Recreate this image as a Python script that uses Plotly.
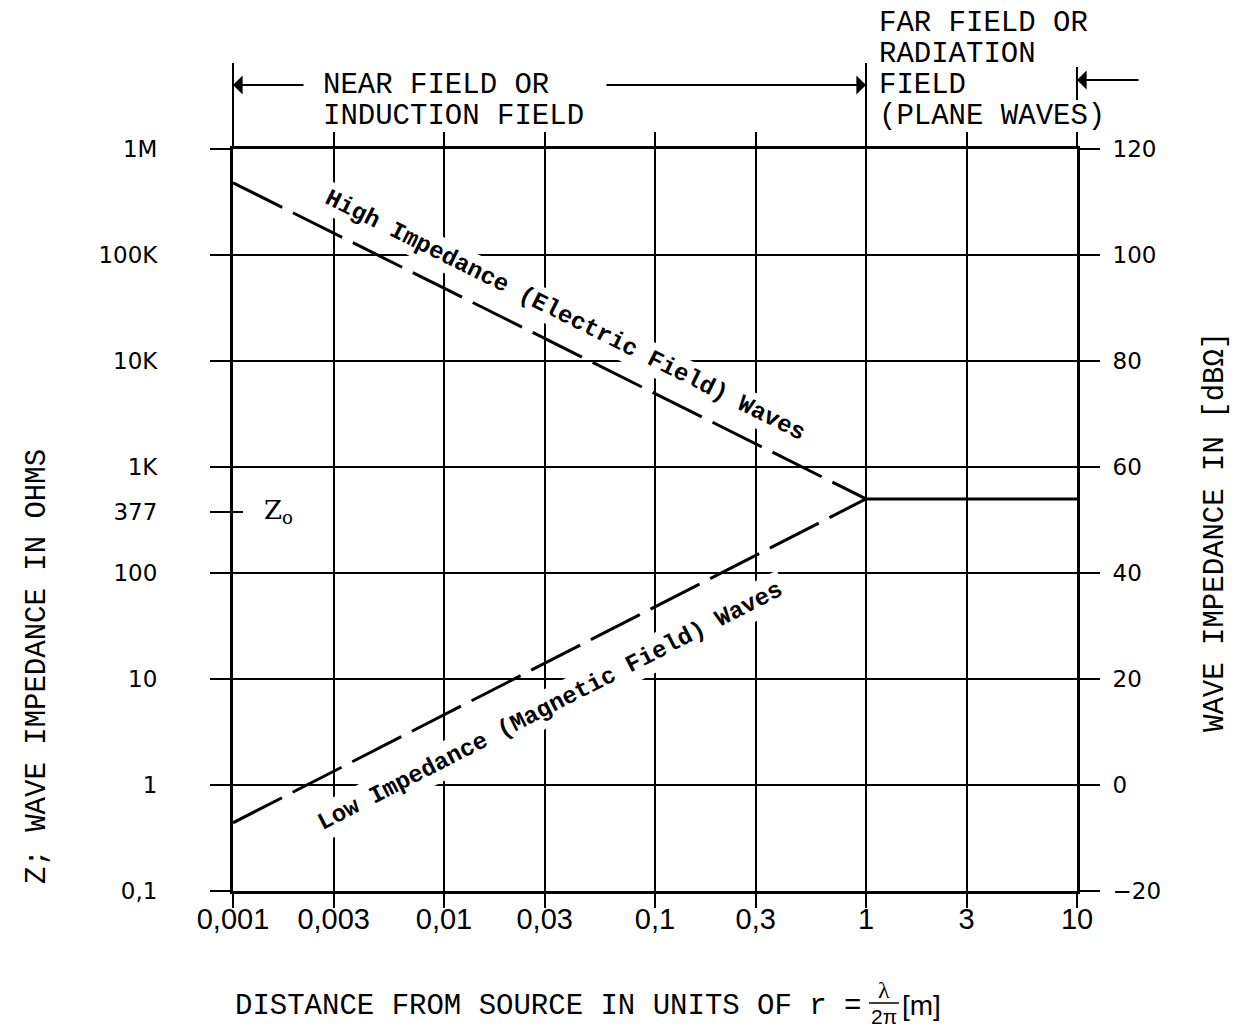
import math
import plotly.graph_objects as go

# ---------------- data ----------------
x_ticks = [0.001, 0.003, 0.01, 0.03, 0.1, 0.3, 1, 3, 10]
x_ticktext = ["0,001", "0,003", "0,01", "0,03", "0,1", "0,3", "1", "3", "10"]

z_ticks = [0.1, 1, 10, 100, 377, 1e3, 1e4, 1e5, 1e6]
z_ticktext = ["0,1", "1", "10", "100", "377", "1K", "10K", "100K", "1M"]

db_ticks = [-20, 0, 20, 40, 60, 80, 100, 120]
db_ticktext = ["\u221220", "0", "20", "40", "60", "80", "100", "120"]

# wave impedance curves
high_x = [0.001, 1]
high_z = [4.8e5, 500]          # electric-field (high impedance) waves
low_x = [0.001, 1]
low_z = [0.44, 500]            # magnetic-field (low impedance) waves
far_x = [1, 10]
far_z = [500, 500]             # plane waves (far field)

# ---------------- figure ----------------
MONO = "Liberation Mono, DejaVu Sans Mono, monospace"
TICKF = "DejaVu Sans, sans-serif"
NARROW = "Liberation Sans Narrow, Liberation Sans, Arial Narrow, sans-serif"

fig = go.Figure()

fig.add_trace(go.Scatter(x=high_x, y=high_z, mode="lines",
                         line=dict(color="black", width=3, dash="55px,12px"),
                         hoverinfo="skip", showlegend=False))
fig.add_trace(go.Scatter(x=low_x, y=low_z, mode="lines",
                         line=dict(color="black", width=3, dash="55px,12px"),
                         hoverinfo="skip", showlegend=False))
fig.add_trace(go.Scatter(x=far_x, y=far_z, mode="lines",
                         line=dict(color="black", width=3),
                         hoverinfo="skip", showlegend=False))
# anchor trace for the dB axis
fig.add_trace(go.Scatter(x=[x_ticks[0]], y=[db_ticks[0]], yaxis="y2", mode="markers",
                         marker=dict(opacity=0), hoverinfo="skip", showlegend=False))

W, H = 1237, 1033
L, R, T, B = 233, 160, 149, 142
PW, PH = W - L - R, H - T - B


def px(xp):
    return (xp - L) / PW


def py(yp):
    return (H - B - yp) / PH


fig.update_layout(
    width=W, height=H,
    margin=dict(l=L, r=R, t=T, b=B),
    paper_bgcolor="white", plot_bgcolor="white",
    showlegend=False,
    xaxis=dict(type="log", range=[-3, 1], tickvals=x_ticks, ticktext=x_ticktext,
               ticks="outside", ticklen=14, tickwidth=2, tickcolor="black",
               ticklabelstandoff=-14,
               showgrid=True, gridcolor="black", gridwidth=2,
               showline=True, linecolor="black", linewidth=3, mirror="ticks",
               zeroline=False,
               tickfont=dict(family=NARROW, size=29, color="black")),
    yaxis=dict(type="log", range=[-1, 6], tickvals=z_ticks, ticktext=z_ticktext,
               ticks="outside", ticklen=20, tickwidth=2, tickcolor="black",
               ticklabelstandoff=48,
               showgrid=False, showline=True, linecolor="black", linewidth=3,
               zeroline=False,
               tickfont=dict(family=TICKF, size=23, color="black")),
    yaxis2=dict(overlaying="y", side="right", range=[-20, 120],
                tickvals=db_ticks, ticktext=db_ticktext,
                ticks="outside", ticklen=20, tickwidth=2, tickcolor="black",
                ticklabelstandoff=8,
                showgrid=True, gridcolor="black", gridwidth=2,
                showline=True, linecolor="black", linewidth=3, zeroline=False,
                tickfont=dict(family=TICKF, size=23, color="black")),
)

ann = []


def text(x, y, s, size=29, xanchor="left", angle=0, family=MONO, bg=None,
         yanchor="middle", xref="paper", yref="paper", pad=0):
    d = dict(x=x, y=y, xref=xref, yref=yref, text=s, showarrow=False,
             xanchor=xanchor, yanchor=yanchor, textangle=angle,
             font=dict(family=family, size=size, color="black"))
    if bg:
        d["bgcolor"] = bg
        d["borderpad"] = pad
    ann.append(d)


# header texts
text(px(321), py(86), "NEAR FIELD OR")
text(px(321), py(117), "INDUCTION FIELD")
text(px(877), py(23), "FAR FIELD OR")
text(px(877), py(54), "RADIATION")
text(px(877), py(86), "FIELD")
text(px(877), py(117), "(PLANE WAVES)")

# arrows
ann.append(dict(x=px(233), y=py(85), xref="paper", yref="paper", ax=72, ay=0,
                axref="pixel", ayref="pixel", text="", showarrow=True,
                arrowhead=1, arrowsize=1.6, arrowwidth=2, arrowcolor="black"))
ann.append(dict(x=px(866), y=py(85), xref="paper", yref="paper", ax=-261, ay=0,
                axref="pixel", ayref="pixel", text="", showarrow=True,
                arrowhead=1, arrowsize=1.6, arrowwidth=2, arrowcolor="black"))
ann.append(dict(x=px(1077), y=py(80), xref="paper", yref="paper", ax=63, ay=0,
                axref="pixel", ayref="pixel", text="", showarrow=True,
                arrowhead=1, arrowsize=1.6, arrowwidth=2, arrowcolor="black"))

# diagonal labels
text(px(565), py(315), "<b>High Impedance (Electric Field) Waves</b>", size=24,
     xanchor="center", angle=26.5, bg="white", pad=2)
text(px(550), py(706), "<b>Low Impedance (Magnetic Field) Waves</b>", size=24,
     xanchor="center", angle=-27.1, bg="white", pad=4)

# Z0 mark
text(px(262), math.log10(377), "Z<sub>o</sub>", size=26, family="DejaVu Serif, serif",
     yref="y")

# axis titles
text(px(37), py(667), "Z; WAVE IMPEDANCE IN OHMS", xanchor="center", angle=-90)
text(px(1215), py(532), "WAVE IMPEDANCE IN [dB\u03a9]", xanchor="center", angle=-90)

# bottom title with fraction
text(px(233), py(1006), "DISTANCE FROM SOURCE IN UNITS OF r =")
text(px(884), py(990), "\u03bb", size=24, xanchor="center", family="Liberation Serif, serif")
text(px(884), py(1016), "2\u03c0", size=21, xanchor="center", family=NARROW)
text(px(900), py(1005), "[m]", size=28, family=NARROW)

fig.update_layout(annotations=ann)

shapes = [
    # bracket lines above the plot
    dict(type="line", xref="paper", yref="paper", x0=px(233), x1=px(233), y0=1, y1=py(63),
         line=dict(color="black", width=2)),
    dict(type="line", xref="paper", yref="paper", x0=px(866), x1=px(866), y0=1, y1=py(63),
         line=dict(color="black", width=2)),
    dict(type="line", xref="paper", yref="paper", x0=px(1077), x1=px(1077), y0=py(100), y1=py(67),
         line=dict(color="black", width=2)),
    # fraction bar
    dict(type="line", xref="paper", yref="paper", x0=px(869), x1=px(899), y0=py(1003), y1=py(1003),
         line=dict(color="black", width=1.5)),
    # inner part of 377 tick
    dict(type="line", xref="paper", yref="paper", x0=px(233), x1=px(243), y0=py(512), y1=py(512),
         line=dict(color="black", width=2)),
]
fig.update_layout(shapes=shapes)

fig.write_html("out.html")
